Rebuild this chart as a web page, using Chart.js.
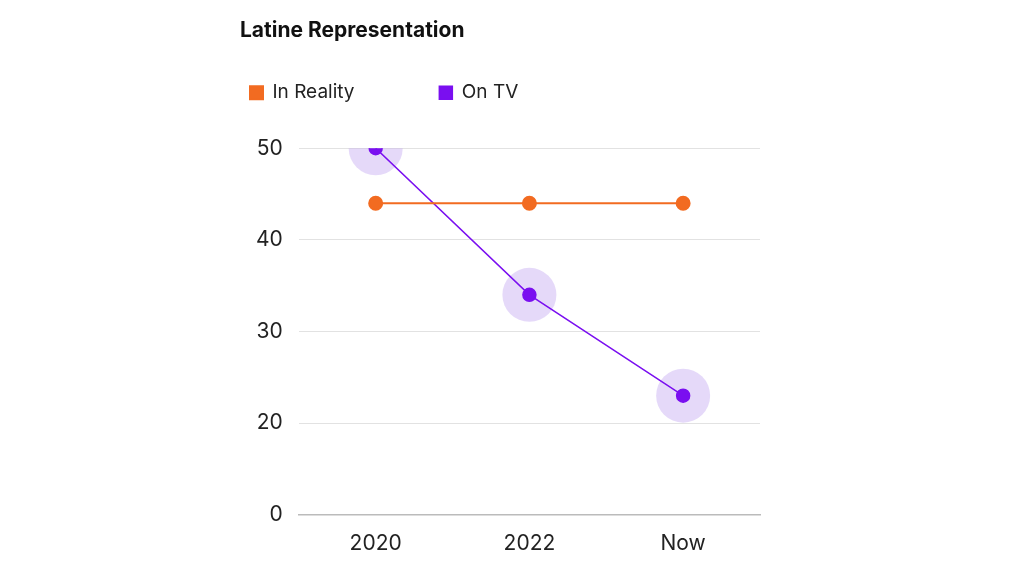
<!DOCTYPE html>
<html lang="en">
<head>
<meta charset="UTF-8">
<title>Latine Representation</title>
<script src="https://cdn.jsdelivr.net/npm/chart.js"></script>
<style>
  body { margin: 0; background: #fff; }
  #wrap { width: 1024px; height: 576px; }
</style>
</head>
<body>
<div id="wrap"><canvas id="chart"></canvas></div>
<script>
const categories = ['2020', '2022', 'Now'];
const inReality = [44, 44, 44];
const onTV = [50, 34, 23];
// the axis is cut: its bottom starts near 10 but is labelled 0
const yTicks = [10, 20, 30, 40, 50];
const yTickLabels = ['0', '20', '30', '40', '50'];

const orange = '#f26b21';
const purple = '#7a0ff0';

// extra space between legend and plot
const legendGap = {
  id: 'legendGap',
  beforeInit(chart) {
    const fit = chart.legend.fit;
    chart.legend.fit = function () { fit.bind(this)(); this.height += 36; };
  }
};

new Chart(document.getElementById('chart'), {
  type: 'line',
  data: {
    labels: categories,
    datasets: [
      { label: 'In Reality', data: inReality, borderColor: orange, backgroundColor: orange,
        borderWidth: 2, pointRadius: 6.5, pointHoverRadius: 6.5 },
      { label: 'On TV', data: onTV, borderColor: purple, backgroundColor: purple,
        borderWidth: 1.5, pointRadius: 6.5, pointHoverRadius: 6.5 },
      { label: 'halo', data: onTV, showLine: false, borderWidth: 0,
        backgroundColor: 'rgba(190,160,240,0.4)', pointRadius: 27, pointHoverRadius: 27 }
    ]
  },
  plugins: [legendGap],
  options: {
    responsive: true,
    maintainAspectRatio: false,
    animation: false,
    layout: { padding: { left: 240, right: 264, top: 18, bottom: 12 } },
    plugins: {
      title: { display: true, text: 'Latine Representation', align: 'start', color: '#111',
        font: { family: 'Inter', size: 21, weight: 'bold' }, padding: { top: 0, bottom: 30 } },
      legend: { align: 'start',
        labels: { usePointStyle: true, pointStyle: 'rect', boxWidth: 13, boxHeight: 13, padding: 10,
          color: '#222', font: { family: 'Inter', size: 19 },
          generateLabels: chart => Chart.defaults.plugins.legend.labels.generateLabels(chart)
            .filter(item => item.text !== 'halo')
            .map(item => ({ ...item, text: item.text === 'In Reality' ? item.text + '              ' : item.text })) } },
      tooltip: { enabled: false }
    },
    scales: {
      x: { offset: true, grid: { display: false }, border: { color: '#bbb', width: 1.5 },
        ticks: { color: '#222', font: { family: 'Inter', size: 21 }, padding: 8 } },
      y: { min: 10, max: 50,
        afterBuildTicks: axis => { axis.ticks = yTicks.map(v => ({ value: v })); },
        grid: { color: '#e2e2e2', drawTicks: false }, border: { display: false },
        ticks: { color: '#222', font: { family: 'Inter', size: 21 }, padding: 16,
          callback: (v) => yTickLabels[yTicks.indexOf(v)] } }
    }
  }
});
</script>
</body>
</html>
